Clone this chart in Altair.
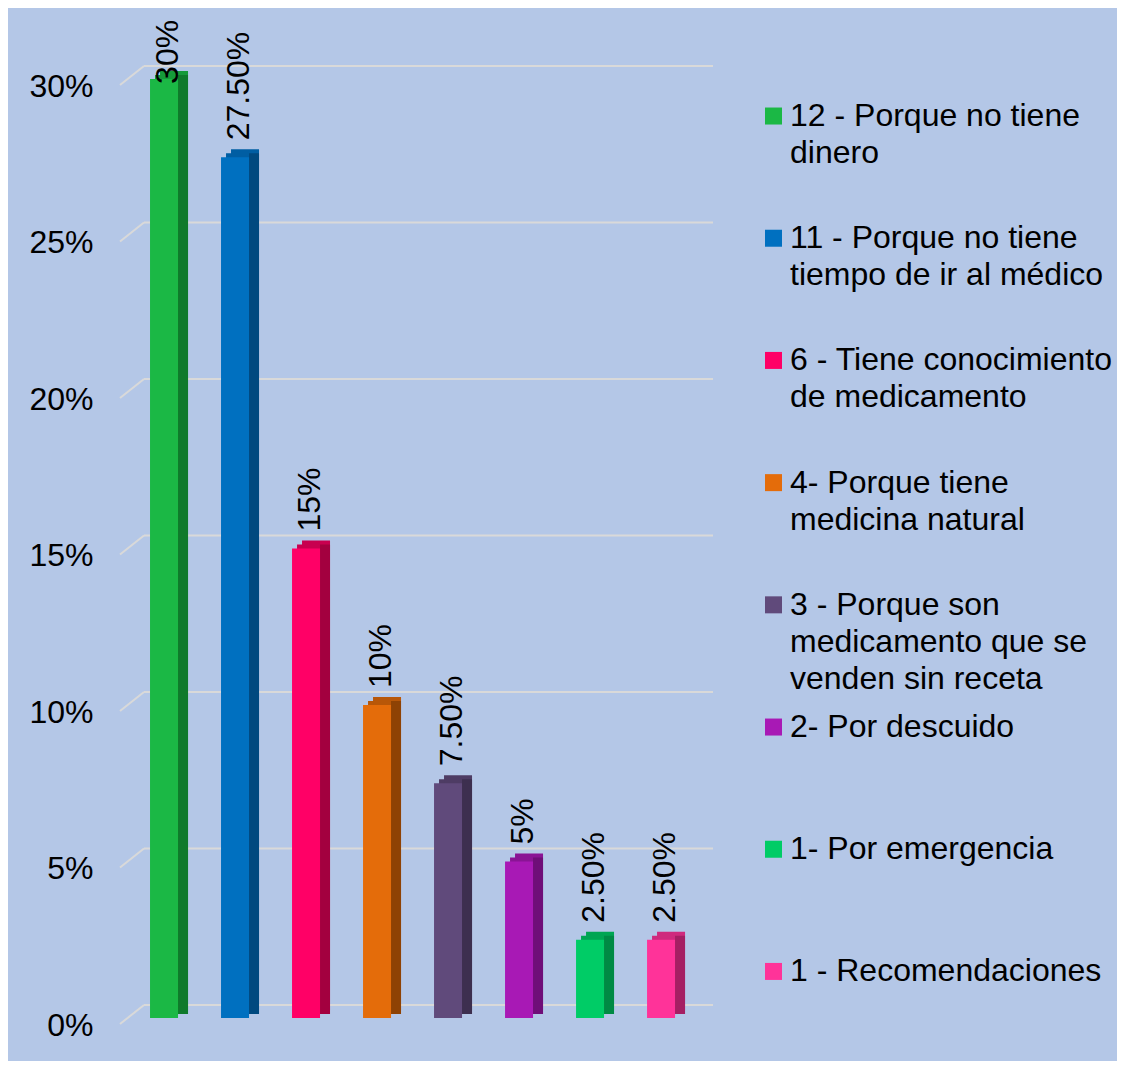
import altair as alt
import pandas as pd

categories = [
    "12 - Porque no tiene dinero",
    "11 - Porque no tiene tiempo de ir al médico",
    "6 - Tiene conocimiento de medicamento",
    "4- Porque tiene medicina natural",
    "3 - Porque son medicamento que se venden sin receta",
    "2- Por descuido",
    "1- Por emergencia",
    "1 - Recomendaciones",
]
legend_text = [
    "12 - Porque no tiene\ndinero",
    "11 - Porque no tiene\ntiempo de ir al médico",
    "6 - Tiene conocimiento\nde medicamento",
    "4- Porque tiene\nmedicina natural",
    "3 - Porque son\nmedicamento que se\nvenden sin receta",
    "2- Por descuido",
    "1- Por emergencia",
    "1 - Recomendaciones",
]
values = [30, 27.5, 15, 10, 7.5, 5, 2.5, 2.5]
value_labels = ["30%", "27.50%", "15%", "10%", "7.50%", "5%", "2.50%", "2.50%"]
front_colors = ["#1BB845", "#0070C0", "#FF0066", "#E46C0A", "#604A7B", "#A819B5", "#00CC66", "#FF3399"]
top_colors = ["#169A3A", "#005EA3", "#C8004F", "#B85708", "#4E3C64", "#8A1495", "#00A552", "#CF2A7D"]
side_colors = ["#107A2C", "#00497F", "#A3003F", "#8E4204", "#3D2F4F", "#6F0E78", "#008A44", "#A51F63"]
y_ticks = [0, 5, 10, 15, 20, 25, 30]

df = pd.DataFrame({
    "cat": categories,
    "value": values,
    "label": value_labels,
    "front": front_colors,
    "top": top_colors,
    "side": side_colors,
    "legend": legend_text,
})
grid_df = pd.DataFrame({"v": y_ticks})

FONT = "Liberation Sans"
FS = 32

x_enc = alt.X("cat:N", sort=categories,
              scale=alt.Scale(paddingInner=0, paddingOuter=0.19, align=0.39),
              axis=None)
y_scale = alt.Scale(domain=[0, 30], nice=False, zero=True)
y_axis = alt.Axis(values=y_ticks, labelExpr="datum.value + '%'",
                  labelFontSize=FS, labelFont=FONT, labelColor="black",
                  domain=False, ticks=False, tickSize=0, grid=False,
                  labelPadding=25, labelOffset=7, title=None)

base = alt.Chart(df)

grid = alt.Chart(grid_df).mark_rule(color="#D9D9D9", strokeWidth=2, yOffset=-13).encode(
    y=alt.Y("v:Q", scale=y_scale, axis=y_axis),
    x=alt.value(26), x2=alt.value(595),
)
diag = alt.Chart(grid_df).mark_rule(color="#D9D9D9", strokeWidth=2, yOffset=6, y2Offset=-13).encode(
    y=alt.Y("v:Q", scale=y_scale, axis=y_axis),
    y2="v:Q",
    x=alt.value(2), x2=alt.value(26),
)

y_enc = alt.Y("value:Q", scale=y_scale, axis=y_axis)

top1 = base.mark_bar(size=28, xOffset=5, yOffset=-4, y2Offset=-4).encode(
    x=x_enc, y=y_enc, color=alt.Color("top:N", scale=None))
top2 = base.mark_bar(size=28, xOffset=10, yOffset=-8, y2Offset=-8).encode(
    x=x_enc, y=y_enc, color=alt.Color("top:N", scale=None))
side_face = base.mark_bar(size=10, xOffset=19, yOffset=-4, y2Offset=-4).encode(
    x=x_enc, y=y_enc, color=alt.Color("side:N", scale=None))
front_face = base.mark_bar(size=28).encode(
    x=x_enc, y=y_enc, color=alt.Color("front:N", scale=None))

labels = base.transform_calculate(lpos="min(datum.value, 29.3)").mark_text(
    angle=270, align="left", baseline="middle", dx=17, dy=4,
    fontSize=FS, font=FONT, color="black"
).encode(
    x=x_enc,
    y=alt.Y("lpos:Q", scale=y_scale, axis=y_axis),
    text="label:N",
)

leg_y = alt.Y("cat:N", sort=categories,
              scale=alt.Scale(type="point", padding=0.342, align=0.443), axis=None)
leg_sq = base.mark_square(size=289, opacity=1).encode(
    y=leg_y, x=alt.value(655.5), color=alt.Color("front:N", scale=None))
leg_txt = base.mark_text(align="left", baseline="top", dy=-15, fontSize=FS, font=FONT,
                         color="black", lineBreak="\n", lineHeight=37).encode(
    y=leg_y, x=alt.value(672), text="legend:N")

main = alt.layer(grid, diag, top1, top2, side_face, front_face, labels)
legend = alt.layer(leg_sq, leg_txt)

chart = alt.layer(main, legend).resolve_scale(y="independent").properties(
    width=595, height=939,
    autosize=alt.AutoSizeParams(type="none"),
    padding={"left": 110, "top": 71, "right": 404, "bottom": 43},
    background="#B4C7E7",
).configure_view(stroke=None)

chart.save("out.html", embed_options={"renderer": "svg", "actions": False})
